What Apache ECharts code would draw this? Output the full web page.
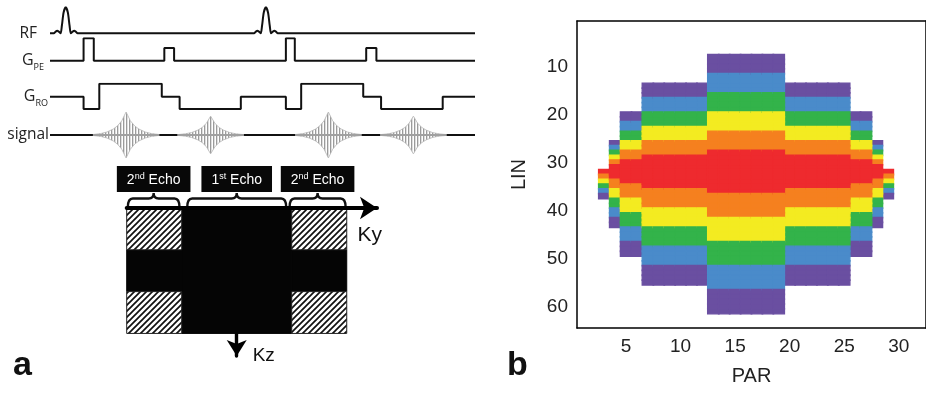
<!DOCTYPE html>
<html>
<head>
<meta charset="utf-8">
<script src="https://cdn.jsdelivr.net/npm/echarts@6/dist/echarts.min.js"></script>
<style>
  html, body { margin: 0; padding: 0; background: #fff; }
  #chart { width: 926px; height: 395px; }
</style>
</head>
<body>
<div id="chart"></div>
<script>
// ---------- panel a : pulse sequence (time in a.u., 0..100) ----------
const rfCenters = [3.7, 50.8];
// sinc pulse: [time offset, amplitude]
const rfShape = [[-2.8, 0], [-2.4, 0.06], [-2.0, 0.1], [-1.6, 0.06], [-1.2, 0], [-0.9, 0.3], [-0.5, 0.8], [0, 1],
  [0.5, 0.8], [0.9, 0.3], [1.2, 0], [1.6, 0.06], [2.0, 0.1], [2.4, 0.06], [2.8, 0]];
// gradient lobes: [start, end, amplitude]
const gpeLobes = [[7.9, 10.3, 1], [26.9, 29.2, 0.57], [55.5, 57.6, 1], [74.4, 76.8, 0.57]];
const groLobes = [[7.9, 11.6, -0.95], [11.6, 26.3, 1], [30.5, 44.9, -0.95],
  [55.5, 59.1, -0.95], [59.1, 73.7, 1], [77.9, 92.4, -0.95]];
// echoes
const echoCenters = [17.9, 37.8, 65.5, 85.5];
const echoPeaks = [1, 0.82, 1, 0.82];
const echoEnvelope = [[-7.8, 0.02], [-6, 0.06], [-4.5, 0.13], [-3, 0.26], [-2, 0.4], [-1, 0.62], [-0.4, 0.85], [0, 1],
  [0.4, 0.85], [1, 0.62], [2, 0.4], [3, 0.26], [4.5, 0.13], [6, 0.06], [7.8, 0.02]];

// k-space coverage: [ky0, ky1, kz0, kz1, hatched]
const kspaceTiles = [
  [-1, 1, 0, 3, 0],
  [-2, -1, 1, 2, 0],
  [1, 2, 1, 2, 0],
  [-2, -1, 0, 1, 1],
  [-2, -1, 2, 3, 1],
  [1, 2, 0, 1, 1],
  [1, 2, 2, 3, 1]
];
// braces over ky: [ky0, ky1, echo number, ordinal suffix]
const echoBraces = [[-1.98, -1.04, "2", "nd"], [-0.9, 0.9, "1", "st"], [0.96, 1.98, "2", "nd"]];

// ---------- panel b : acquisition order map ----------
const groupCols = [
  [3, 29],
  [4, 28],
  [5, 6, 26, 27],
  [7, 8, 9, 10, 11, 12, 20, 21, 22, 23, 24, 25],
  [13, 14, 15, 16, 17, 18, 19]
];
const groupFirstRow = [32, 26, 20, 14, 8];
// rows per colour band, top purple -> red -> bottom purple
const groupBandRows = [
  [0, 0, 0, 0, 0, 1, 1, 1, 1, 1, 1],
  [1, 1, 1, 1, 1, 3, 2, 2, 2, 2, 2],
  [2, 2, 2, 2, 2, 5, 3, 3, 3, 3, 3],
  [3, 3, 3, 3, 3, 7, 4, 4, 4, 4, 4],
  [4, 4, 4, 4, 4, 9, 5, 5, 5, 5, 5]
];
const bandLevels = [1, 2, 3, 4, 5, 6, 5, 4, 3, 2, 1];
const levelColors = ["#6a4fa1", "#4a8bca", "#33b34a", "#f3eb21", "#f5801f", "#ee2a2e"];
const parTicks = [5, 10, 15, 20, 25, 30];
const linTicks = [10, 20, 30, 40, 50, 60];

const parCategories = [];
for (let i = 1; i <= 32; i++) parCategories.push(String(i));
const linCategories = [];
for (let i = 1; i <= 64; i++) linCategories.push(String(i));

// 构建热力图数据
const heatData = [];
groupCols.forEach((cols, g) => {
  cols.forEach(col => {
    let row = groupFirstRow[g];
    groupBandRows[g].forEach((n, b) => {
      const c = levelColors[bandLevels[b] - 1];
      for (let k = 0; k < n; k++) {
        heatData.push({
          value: [col - 1, row - 1, bandLevels[b]],
          itemStyle: { color: c, borderColor: c, borderWidth: 1.3 }
        });
        row++;
      }
    });
  });
});

// traces for the sequence diagram
const rfTrace = [[0, 0]];
rfCenters.forEach(c => rfShape.forEach(p => rfTrace.push([c + p[0], p[1]])));
rfTrace.push([100, 0]);

const lobeTrace = lobes => {
  const pts = [[0, 0]];
  lobes.forEach(([a, b, h]) => pts.push([a, 0], [a, h], [b, h], [b, 0]));
  pts.push([100, 0]);
  return pts;
};

const makePattern = (w, h, draw) => {
  const c = document.createElement("canvas");
  c.width = w;
  c.height = h;
  draw(c.getContext("2d"));
  return { image: c, repeat: "repeat" };
};
const hatch = makePattern(6, 6, ctx => {
  ctx.fillStyle = "#fff";
  ctx.fillRect(0, 0, 6, 6);
  ctx.strokeStyle = "#111";
  ctx.lineWidth = 1.7;
  ctx.beginPath();
  ctx.moveTo(0, 6); ctx.lineTo(6, 0);
  ctx.moveTo(-1, 1); ctx.lineTo(1, -1);
  ctx.moveTo(5, 7); ctx.lineTo(7, 5);
  ctx.stroke();
});
const echoFill = makePattern(3, 4, ctx => {
  ctx.fillStyle = "rgba(150,150,150,0.95)";
  ctx.fillRect(0, 0, 1, 4);
  ctx.fillStyle = "rgba(200,200,200,0.6)";
  ctx.fillRect(1, 0, 1, 4);
});

const line = (idx, data, extra) => Object.assign({
  type: "line",
  xAxisIndex: idx,
  yAxisIndex: idx,
  data: data,
  showSymbol: false,
  silent: true,
  lineStyle: { color: "#111", width: 2 }
}, extra || {});

const series = [
  line(0, rfTrace, { smooth: 0.25 }),
  line(1, lobeTrace(gpeLobes)),
  line(2, lobeTrace(groLobes)),
  line(3, [[0, 0], [100, 0]])
];
echoCenters.forEach((c, i) => {
  const top = echoEnvelope.map(p => [c + p[0], p[1] * echoPeaks[i]]);
  const bottom = echoEnvelope.map(p => [c + p[0], -p[1] * echoPeaks[i]]);
  const env = { lineStyle: { color: "#b5b5b5", width: 0.8 }, areaStyle: { color: echoFill, opacity: 1 } };
  series.push(line(3, top, env), line(3, bottom, env));
  series.push(line(3, [[top[0][0], 0], [top[top.length - 1][0], 0]], { lineStyle: { color: "#a0a0a0", width: 2.2 } }));
});

// k-space tiles, kz grows downwards (plotted as -kz)
series.push({
  type: "custom",
  xAxisIndex: 4,
  yAxisIndex: 4,
  silent: true,
  z: 2,
  data: kspaceTiles,
  renderItem: (params, api) => {
    const p0 = api.coord([api.value(0), -api.value(2)]);
    const p1 = api.coord([api.value(1), -api.value(3)]);
    const hatched = api.value(4) === 1;
    return {
      type: "rect",
      shape: {
        x: Math.min(p0[0], p1[0]),
        y: Math.min(p0[1], p1[1]),
        width: Math.abs(p1[0] - p0[0]),
        height: Math.abs(p1[1] - p0[1])
      },
      style: hatched ? { fill: hatch, stroke: "#222", lineWidth: 1 } : { fill: "#050505", stroke: "#050505", lineWidth: 1 }
    };
  }
});

series.push({
  type: "custom",
  xAxisIndex: 5,
  yAxisIndex: 5,
  silent: true,
  data: echoBraces,
  renderItem: (params, api) => {
    const a = api.coord([api.value(0), 0]);
    const b = api.coord([api.value(1), 0]);
    const m = (a[0] + b[0]) / 2;
    const B = a[1];
    const f = B - 9;
    const t = B - 14.5;
    const path = "M" + a[0] + " " + B + " Q" + a[0] + " " + f + " " + (a[0] + 5) + " " + f +
      " L" + (m - 5) + " " + f + " Q" + m + " " + f + " " + m + " " + t +
      " Q" + m + " " + f + " " + (m + 5) + " " + f +
      " L" + (b[0] - 5) + " " + f + " Q" + b[0] + " " + f + " " + b[0] + " " + B;
    return {
      type: "group",
      children: [
        { type: "path", shape: { pathData: path }, style: { fill: null, stroke: "#111", lineWidth: 2.4 } },
        {
          type: "text",
          style: {
            x: m,
            y: t - 1,
            text: "{n|" + api.value(2) + "}{s|" + api.value(3) + "}{n| Echo}",
            align: "center",
            verticalAlign: "bottom",
            backgroundColor: "#080808",
            padding: [6, 10, 4, 10],
            rich: {
              n: { fontSize: 14, fontFamily: "Liberation Sans", fill: "#fff", lineHeight: 16 },
              s: { fontSize: 9, fontFamily: "Liberation Sans", fill: "#fff", verticalAlign: "top", lineHeight: 11 }
            }
          }
        }
      ]
    };
  }
});

series.push({
  type: "heatmap",
  xAxisIndex: 6,
  yAxisIndex: 6,
  silent: true,
  data: heatData
});

const hiddenX = i => ({ type: "value", gridIndex: i, min: 0, max: 100, show: false });
const nameY = (i, name, gap) => ({
  type: "value",
  gridIndex: i,
  min: -1,
  max: 1,
  axisLine: { show: false },
  axisTick: { show: false },
  axisLabel: { show: false },
  splitLine: { show: false },
  name: name,
  nameLocation: "middle",
  nameRotate: 0,
  nameGap: gap,
  nameTextStyle: {
    fontFamily: "Open Sans",
    fontSize: 15.5,
    color: "#222",
    rich: {
      g: { fontFamily: "Open Sans", fontSize: 16, color: "#222", lineHeight: 22 },
      s: { fontFamily: "Open Sans", fontSize: 9, color: "#222", verticalAlign: "bottom", lineHeight: 13 }
    }
  }
});

const tickEvery = list => (idx, val) => list.indexOf(Number(val)) >= 0;
const axisFont = { fontFamily: "Liberation Sans", fontSize: 19, color: "#222" };

const option = {
  animation: false,
  backgroundColor: "#fff",
  title: [
    { text: "a", left: 8, top: 344, textStyle: { fontFamily: "Liberation Sans", fontWeight: "bold", fontSize: 34, color: "#111" } },
    { text: "b", left: 502, top: 344, textStyle: { fontFamily: "Liberation Sans", fontWeight: "bold", fontSize: 34, color: "#111" } }
  ],
  grid: [
    { left: 50, width: 425, top: 7.3, height: 52 },
    { left: 50, width: 425, top: 38.3, height: 44.8 },
    { left: 50, width: 425, top: 83.7, height: 26 },
    { left: 50, width: 425, top: 112, height: 46 },
    { left: 126.7, width: 250.3, top: 208, height: 148 },
    { left: 126.7, width: 250.3, top: 160, height: 47.5 },
    { left: 577, width: 354, top: 21, height: 307 }
  ],
  xAxis: [
    hiddenX(0), hiddenX(1), hiddenX(2), hiddenX(3),
    {
      type: "value", gridIndex: 4, min: -2, max: 2.55, z: 5,
      axisLine: { show: true, onZero: true, symbol: ["none", "arrow"], symbolSize: [17, 17], lineStyle: { color: "#000", width: 4 } },
      axisTick: { show: false }, axisLabel: { show: false }, splitLine: { show: false },
      name: "Ky", nameLocation: "end", nameGap: 5,
      nameTextStyle: { fontFamily: "Liberation Sans", fontSize: 21, color: "#111", align: "right", verticalAlign: "top", lineHeight: 54 }
    },
    { type: "value", gridIndex: 5, min: -2, max: 2.55, show: false },
    {
      type: "category", gridIndex: 6, data: parCategories, position: "bottom",
      axisLine: { lineStyle: { color: "#000", width: 1.5 } },
      axisTick: { inside: true, length: 5, alignWithLabel: true, interval: tickEvery(parTicks), lineStyle: { color: "#000", width: 1.5 } },
      axisLabel: Object.assign({ interval: tickEvery(parTicks), margin: 9 }, axisFont),
      splitLine: { show: false },
      name: "PAR", nameLocation: "middle", nameGap: 38,
      nameTextStyle: { fontFamily: "Liberation Sans", fontSize: 20, color: "#222" }
    },
    {
      type: "category", gridIndex: 6, data: parCategories, position: "top",
      axisLine: { lineStyle: { color: "#000", width: 1.5 } },
      axisTick: { inside: true, length: 5, alignWithLabel: true, interval: tickEvery(parTicks), lineStyle: { color: "#000", width: 1.5 } },
      axisLabel: { show: false }, splitLine: { show: false }
    }
  ],
  yAxis: [
    nameY(0, "RF", 13),
    nameY(1, "{g|G}{s|PE}", 6),
    nameY(2, "{g|G}{s|RO}", 2),
    nameY(3, "signal", 1),
    {
      type: "value", gridIndex: 4, min: -3.54, max: 0,
      axisLine: { show: true, onZero: true, symbol: ["arrow", "none"], symbolSize: [15, 16], lineStyle: { color: "#000", width: 3.4 } },
      axisTick: { show: false }, axisLabel: { show: false }, splitLine: { show: false },
      name: "Kz", nameLocation: "start", nameGap: -10,
      nameTextStyle: { fontFamily: "Liberation Sans", fontSize: 19, color: "#111", padding: [0, 0, 0, 54] }
    },
    { type: "value", gridIndex: 5, min: 0, max: 1, show: false },
    {
      type: "category", gridIndex: 6, data: linCategories, inverse: true, position: "left",
      axisLine: { lineStyle: { color: "#000", width: 1.5 } },
      axisTick: { inside: true, length: 5, alignWithLabel: true, interval: tickEvery(linTicks), lineStyle: { color: "#000", width: 1.5 } },
      axisLabel: Object.assign({ interval: tickEvery(linTicks), margin: 9 }, axisFont),
      splitLine: { show: false },
      name: "LIN", nameLocation: "middle", nameGap: 48,
      nameTextStyle: { fontFamily: "Liberation Sans", fontSize: 20, color: "#222" }
    },
    {
      type: "category", gridIndex: 6, data: linCategories, inverse: true, position: "right",
      axisLine: { lineStyle: { color: "#000", width: 1.5 } },
      axisTick: { inside: true, length: 5, alignWithLabel: true, interval: tickEvery(linTicks), lineStyle: { color: "#000", width: 1.5 } },
      axisLabel: { show: false }, splitLine: { show: false }
    }
  ],
  series: series
};

const chart = echarts.init(document.getElementById("chart"));
chart.setOption(option);
window.addEventListener("resize", () => chart.resize());
</script>
</body>
</html>
